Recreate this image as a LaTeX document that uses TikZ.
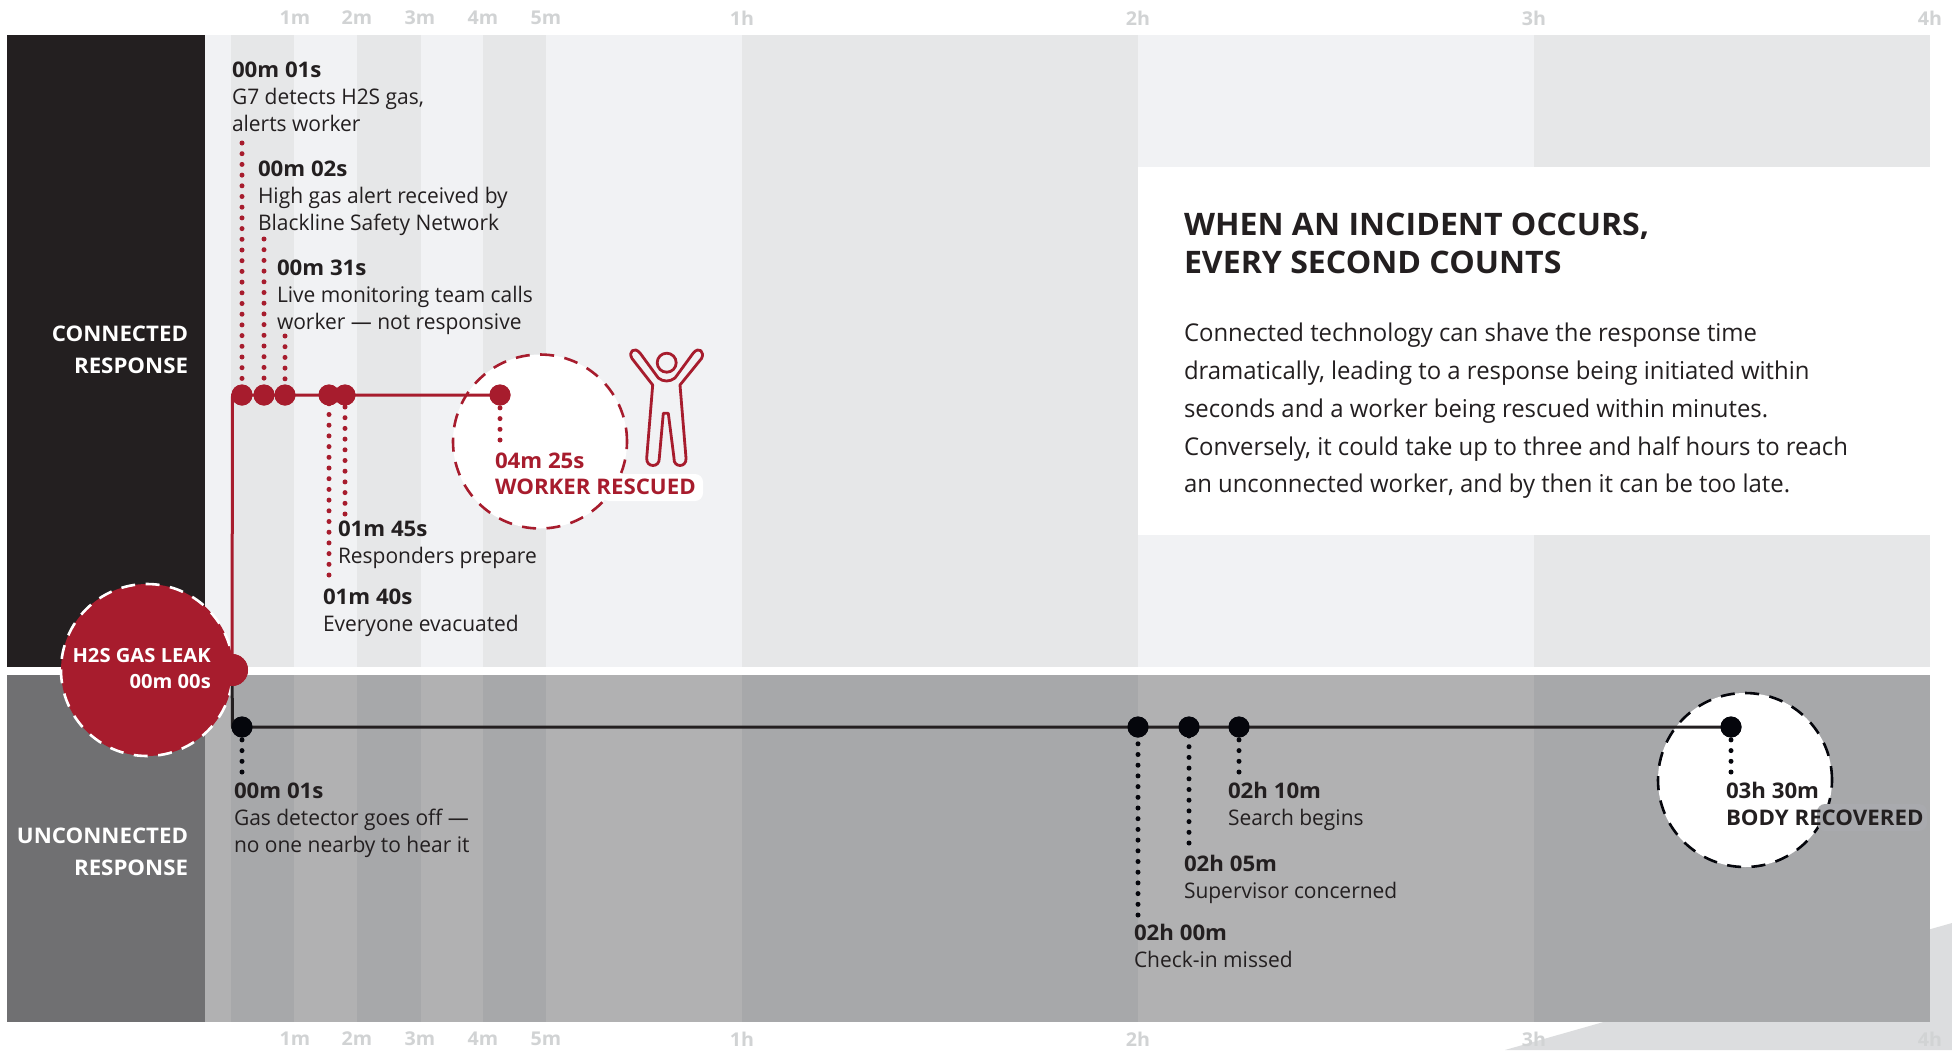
\documentclass[tikz,border=0pt]{standalone}
\usepackage{fontspec}
\setmainfont[FakeStretch=0.975,BoldFeatures={FakeStretch=1.035}]{Open Sans}
\definecolor{ink}{HTML}{231F20}
\definecolor{rd}{HTML}{A71C2D}
\definecolor{topL}{HTML}{F1F2F4}
\definecolor{topD}{HTML}{E6E7E8}
\definecolor{botL}{HTML}{B1B1B2}
\definecolor{botD}{HTML}{A7A8AA}
\definecolor{axisc}{HTML}{D1D3D4}
\definecolor{wedge}{HTML}{DCDDDF}
\definecolor{sidegray}{HTML}{707072}
\definecolor{halo}{HTML}{A9AAAE}
\definecolor{bl}{HTML}{05060C}
\tikzset{
  txt/.style={inner sep=0pt,outer sep=0pt,align=left,text=ink,anchor=north west,font=\fontsize{21.5}{27}\selectfont},
  side/.style={inner sep=0pt,outer sep=0pt,align=right,text=white,anchor=north east,font=\fontsize{21.5}{32}\selectfont\bfseries},
  axislbl/.style={inner sep=0pt,text=axisc,anchor=center,font=\fontsize{19}{22}\selectfont\bfseries},
  rdot/.style={circle,fill=rd,minimum size=21pt,inner sep=0pt,outer sep=0pt},
  kdot/.style={circle,fill=bl,minimum size=21pt,inner sep=0pt,outer sep=0pt},
  rline/.style={draw=rd,line width=3pt},
  kline/.style={draw=ink,line width=3pt},
  rdots/.style={draw=rd,line width=5pt,line cap=round,dash pattern=on 0pt off 10.7pt},
  kdots/.style={draw=bl,line width=5pt,line cap=round,dash pattern=on 0pt off 10.7pt},
  bigc/.style={circle,minimum size=174pt,inner sep=0pt,outer sep=0pt,line width=2.6pt,dash pattern=on 14pt off 10.5pt},
}
\newcommand{\lbl}[5]{\node[txt] (#1) at ({#2},{#3-16}) {\rule{0pt}{16pt}\textbf{#4}\\#5};}
\begin{document}
\begin{tikzpicture}[x=1pt,y=-1pt]
\useasboundingbox (0,0) rectangle (1952,1050);
\fill[white] (0,0) rectangle (1952,1050);
% corner wedge
\fill[wedge] (1505,1050) -- (1952,923) -- (1952,1050) -- cycle;
% side panels
\fill[ink] (7,35) rectangle (205,667);
\fill[sidegray] (7,675) rectangle (205,1022);
% bands
\fill[topL] (205,35) rectangle (1930,667);
\fill[botL] (205,675) rectangle (1930,1022);
\foreach \a/\b in {231/294,357/421,483/546,742/1138,1534/1930}{
  \fill[topD] (\a,35) rectangle (\b,667);
  \fill[botD] (\a,675) rectangle (\b,1022);
}
% white panel
\fill[white] (1138,167) rectangle (1930,535);
% axis labels
\foreach \n/\t/\xx in {a/1m/295,b/2m/357,c/3m/420,d/4m/483,e/5m/546,f/1h/742,g/2h/1138,h/3h/1534,i/4h/1930}{
  \node[axislbl] (top\n) at (\xx,18) {\t};
  \node[axislbl] (bot\n) at (\xx,1039) {\t};
}
% side text
\node[side] (conn) at (188,325) {\rule{0pt}{16pt}CONNECTED\\RESPONSE};
\node[side] (unconn) at (188,827) {\rule{0pt}{16pt}UNCONNECTED\\RESPONSE};
% big circles
\node[bigc,fill=white,draw=rd] (rescue) at (540,441.5) {};
\node[bigc,fill=white,draw=bl] (body) at (1745,780) {};
% halos
\fill[white,rounded corners=8pt] (601,474) rectangle (703,501);
\fill[halo,rounded corners=8pt] (1817,804) rectangle (1927,831);
% dots
\node[rdot] (r1) at (242,395) {};
\node[rdot] (r2) at (264,395) {};
\node[rdot] (r3) at (285,395) {};
\node[rdot] (r4) at (329,395) {};
\node[rdot] (r5) at (345,395) {};
\node[rdot] (r6) at (500,395) {};
\node[kdot] (k1) at (242,727) {};
\node[kdot] (k2) at (1138,727) {};
\node[kdot] (k3) at (1189,727) {};
\node[kdot] (k4) at (1239,727) {};
\node[kdot] (k5) at (1731,727) {};
% free ends
\coordinate (e1) at (242,143);
\coordinate (e2) at (264,239);
\coordinate (e3) at (285,336);
\coordinate (e4) at (329,575);
\coordinate (e5) at (345,514);
\coordinate (e6) at (500,440);
\coordinate (ek1) at (242,772);
\coordinate (ek2) at (1138,915);
\coordinate (ek3) at (1189,843);
\coordinate (ek4) at (1239,772);
\coordinate (ek5) at (1731,772);
\coordinate (corner) at (232.5,395);
\coordinate (kcorner) at (232.5,727);
% dotted connectors
\foreach \p/\q in {e1/r1,e2/r2,e3/r3,e4/r4,e5/r5,e6/r6}{\draw[rdots] (\p) -- (\q.center);}
\foreach \p/\q in {ek1/k1,ek2/k2,ek3/k3,ek4/k4,ek5/k5}{\draw[kdots] (\p) -- (\q.center);}
% leak
\node[bigc,minimum size=172pt,fill=rd,draw=white] (leak) at (147,670) {};
\node[circle,fill=rd,minimum size=32pt,inner sep=0pt] (bump) at (232,670) {};
% solid connectors
\draw[rline] (bump.center) -- (corner) -- (r6.center);
\draw[kline] (bump.center) -- (kcorner) -- (k5.center);
\foreach \q in {r1,r2,r3,r4,r5,r6}{\fill[rd] (\q) circle (10.5pt);}
\foreach \q in {k1,k2,k3,k4,k5}{\fill[bl] (\q) circle (10.5pt);}
\fill[rd] (bump) circle (16pt);
% leak text
\node[inner sep=0pt,align=right,text=white,anchor=north east,font=\fontsize{19.5}{26}\selectfont\bfseries] (leaktxt) at (211,648) {\rule{0pt}{14pt}H2S GAS LEAK\\00m 00s};
% person icon
\draw[rd,line width=2.8pt,line join=round] (652.7,385) -- (632,358.5) .. controls (628,352) and (634,346) .. (640,353) -- (658.3,378) .. controls (663,382) and (670,382) .. (675,378) -- (693.3,353) .. controls (699,346) and (705,352) .. (701.5,358.5) -- (680,385) -- (686,458) .. controls (687,468) and (673,468) .. (674,458) -- (668.3,413.3) -- (663.3,413.3) -- (659.3,458) .. controls (660,468) and (646,468) .. (646.7,458) -- cycle;
\draw[rd,line width=2.8pt] (666.7,362.7) circle (9.5pt);
% labels
\lbl{t1}{232}{77.6}{00m 01s}{G7 detects H2S gas,\\alerts worker}
\lbl{t2}{258}{176.5}{00m 02s}{High gas alert received by\\Blackline Safety Network}
\lbl{t3}{277}{275}{00m 31s}{Live monitoring team calls\\worker — not responsive}
\lbl{t4}{338}{536}{01m 45s}{Responders prepare}
\lbl{t5}{323}{604}{01m 40s}{Everyone evacuated}
\lbl{t6}{234}{798}{00m 01s}{Gas detector goes off —\\no one nearby to hear it}
\lbl{t7}{1228}{798}{02h 10m}{Search begins}
\lbl{t8}{1184}{871}{02h 05m}{Supervisor concerned}
\lbl{t9}{1134}{940}{02h 00m}{Check-in missed}
\node[txt,text=rd,font=\fontsize{21.5}{26}\selectfont\bfseries] (t10) at (495,452) {\rule{0pt}{16pt}04m 25s\\WORKER RESCUED};
\node[txt,font=\fontsize{21.5}{27}\selectfont\bfseries] (t11) at (1726,782) {\rule{0pt}{16pt}03h 30m\\BODY RECOVERED};
% panel text
\node[txt,font=\fontsize{31}{38}\selectfont\bfseries] (title) at (1184,213) {\rule{0pt}{22pt}WHEN AN INCIDENT OCCURS,\\EVERY SECOND COUNTS};
\node[txt,font=\fontsize{24.5}{37.8}\selectfont] (para) at (1184,323) {\rule{0pt}{18pt}Connected technology can shave the response time\\dramatically, leading to a response being initiated within\\seconds and a worker being rescued within minutes.\\Conversely, it could take up to three and half hours to reach\\an unconnected worker, and by then it can be too late.};
\end{tikzpicture}
\end{document}
